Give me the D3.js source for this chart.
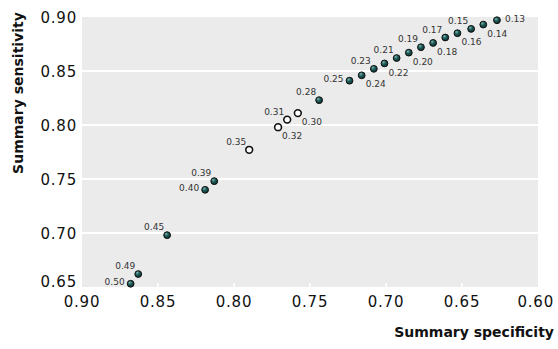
<!DOCTYPE html>
<html>
<head>
<meta charset="utf-8">
<script src="https://cdn.jsdelivr.net/npm/d3@7"></script>
<style>
  body { margin: 0; background: #fff; }
  svg { display: block; }
</style>
</head>
<body>
<div id="chart"></div>
<script>
// thresholds, specificity, sensitivity, and which points are hollow
var thresholds = [0.50, 0.49, 0.45, 0.40, 0.39, 0.35, 0.32, 0.31, 0.30, 0.28, 0.25, 0.24, 0.23,
  0.22, 0.21, 0.20, 0.19, 0.18, 0.17, 0.16, 0.15, 0.14, 0.13]
var specificity = [0.868, 0.863, 0.844, 0.819, 0.813, 0.790, 0.771, 0.765, 0.758, 0.744, 0.724, 0.716, 0.708,
  0.701, 0.693, 0.685, 0.677, 0.669, 0.661, 0.653, 0.644, 0.636, 0.627]
var sensitivity = [0.653, 0.662, 0.698, 0.740, 0.748, 0.777, 0.798, 0.805, 0.811, 0.823, 0.841, 0.846, 0.852,
  0.857, 0.862, 0.867, 0.872, 0.876, 0.881, 0.885, 0.889, 0.893, 0.897]
var hollow = [0.35, 0.32, 0.31, 0.30]
// where each label sits: l = left, ul = up-left, dr = down-right, r = right
var labelSide = ["l", "ul", "ul", "l", "ul", "ul", "dr", "ul", "dr", "ul", "l", "dr", "ul",
  "dr", "ul", "dr", "ul", "dr", "ul", "dr", "ul", "dr", "r"]
var xTicks = [0.90, 0.85, 0.80, 0.75, 0.70, 0.65, 0.60]
var yTicks = [0.65, 0.70, 0.75, 0.80, 0.85, 0.90]

var width = 558, height = 349
var margin = { top: 17, right: 20, bottom: 62, left: 82 }

var data = thresholds.map(function(t, i) {
  return { t: t, x: specificity[i], y: sensitivity[i], side: labelSide[i], open: hollow.indexOf(t) >= 0 }
})

var svg = d3.select("#chart").append("svg")
  .attr("width", width)
  .attr("height", height)

var defs = svg.append("defs")
var grad = defs.append("radialGradient")
  .attr("id", "ball")
  .attr("cx", "40%").attr("cy", "35%").attr("r", "65%")
  .attr("fx", "35%").attr("fy", "30%")
grad.append("stop").attr("offset", "0%").attr("stop-color", "#7fb5b0")
grad.append("stop").attr("offset", "45%").attr("stop-color", "#1f5f5c")
grad.append("stop").attr("offset", "100%").attr("stop-color", "#0b2e2d")

var xScale = d3.scaleLinear()
  .domain([0.90, 0.60])
  .range([margin.left, width - margin.right])

var yScale = d3.scaleLinear()
  .domain([0.65, 0.90])
  .range([height - margin.bottom, margin.top])

// panel
svg.append("rect")
  .attr("x", margin.left)
  .attr("y", margin.top)
  .attr("width", xScale(0.60) - xScale(0.90))
  .attr("height", yScale(0.65) - yScale(0.90))
  .attr("fill", "#ebebeb")

// horizontal grid lines
svg.append("g").selectAll("line")
  .data(yTicks.filter(function(d) { return d > 0.65 && d < 0.90 }))
  .enter().append("line")
  .attr("x1", xScale(0.90))
  .attr("x2", xScale(0.60))
  .attr("y1", function(d) { return yScale(d) })
  .attr("y2", function(d) { return yScale(d) })
  .attr("stroke", "#fff")
  .attr("stroke-width", 1.8)

// little white ticks inside the bottom edge
svg.append("g").selectAll("line")
  .data(xTicks.filter(function(d) { return d < 0.90 && d > 0.60 }))
  .enter().append("line")
  .attr("x1", function(d) { return xScale(d) })
  .attr("x2", function(d) { return xScale(d) })
  .attr("y1", yScale(0.65))
  .attr("y2", yScale(0.65) - 4)
  .attr("stroke", "#fff")
  .attr("stroke-width", 1.5)

var tickFont = "'DejaVu Sans', sans-serif"

// y tick labels
svg.append("g").selectAll("text")
  .data(yTicks)
  .enter().append("text")
  .attr("x", margin.left - 5)
  .attr("y", function(d) { return yScale(d) + (d === 0.65 ? -5 : 1) })
  .attr("dy", "0.36em")
  .attr("text-anchor", "end")
  .attr("font-family", tickFont)
  .attr("font-size", 15)
  .attr("letter-spacing", 0.8)
  .attr("fill", "#111")
  .text(function(d) { return d3.format(".2f")(d) })

// x tick labels
svg.append("g").selectAll("text")
  .data(xTicks)
  .enter().append("text")
  .attr("x", function(d) { return d === 0.60 ? width - 4 : xScale(d) })
  .attr("y", yScale(0.65) + 20)
  .attr("text-anchor", function(d) { return d === 0.60 ? "end" : "middle" })
  .attr("font-family", tickFont)
  .attr("font-size", 15)
  .attr("letter-spacing", 0.8)
  .attr("fill", "#111")
  .text(function(d) { return d3.format(".2f")(d) })

// axis titles
svg.append("text")
  .attr("x", width - 4)
  .attr("y", 337)
  .attr("text-anchor", "end")
  .attr("font-family", tickFont)
  .attr("font-weight", "bold")
  .attr("font-size", 14)
  .attr("fill", "#111")
  .text("Summary specificity")

svg.append("text")
  .attr("transform", "translate(18," + 93 + ") rotate(-90)")
  .attr("dy", "0.36em")
  .attr("text-anchor", "middle")
  .attr("font-family", tickFont)
  .attr("font-weight", "bold")
  .attr("font-size", 14)
  .attr("fill", "#111")
  .text("Summary sensitivity")

// threshold labels
var offsets = {
  l: { dx: -6, dy: -2, anchor: "end" },
  ul: { dx: -3, dy: -8, anchor: "end" },
  dr: { dx: 4, dy: 9, anchor: "start" },
  r: { dx: 8, dy: -1, anchor: "start" }
}
svg.append("g").selectAll("text")
  .data(data)
  .enter().append("text")
  .attr("x", function(d) { return xScale(d.x) + offsets[d.side].dx })
  .attr("y", function(d) { return yScale(d.y) + offsets[d.side].dy })
  .attr("dy", "0.35em")
  .attr("text-anchor", function(d) { return offsets[d.side].anchor })
  .attr("font-family", tickFont)
  .attr("font-size", 9)
  .attr("fill", "#333")
  .text(function(d) { return d3.format(".2f")(d.t) })

// points
svg.append("g").selectAll("circle")
  .data(data)
  .enter().append("circle")
  .attr("cx", function(d) { return xScale(d.x) })
  .attr("cy", function(d) { return yScale(d.y) })
  .attr("r", 3.4)
  .attr("fill", function(d) { return d.open ? "#fff" : "url(#ball)" })
  .attr("stroke", "#111")
  .attr("stroke-width", function(d) { return d.open ? 1.6 : 1 })
</script>
</body>
</html>
